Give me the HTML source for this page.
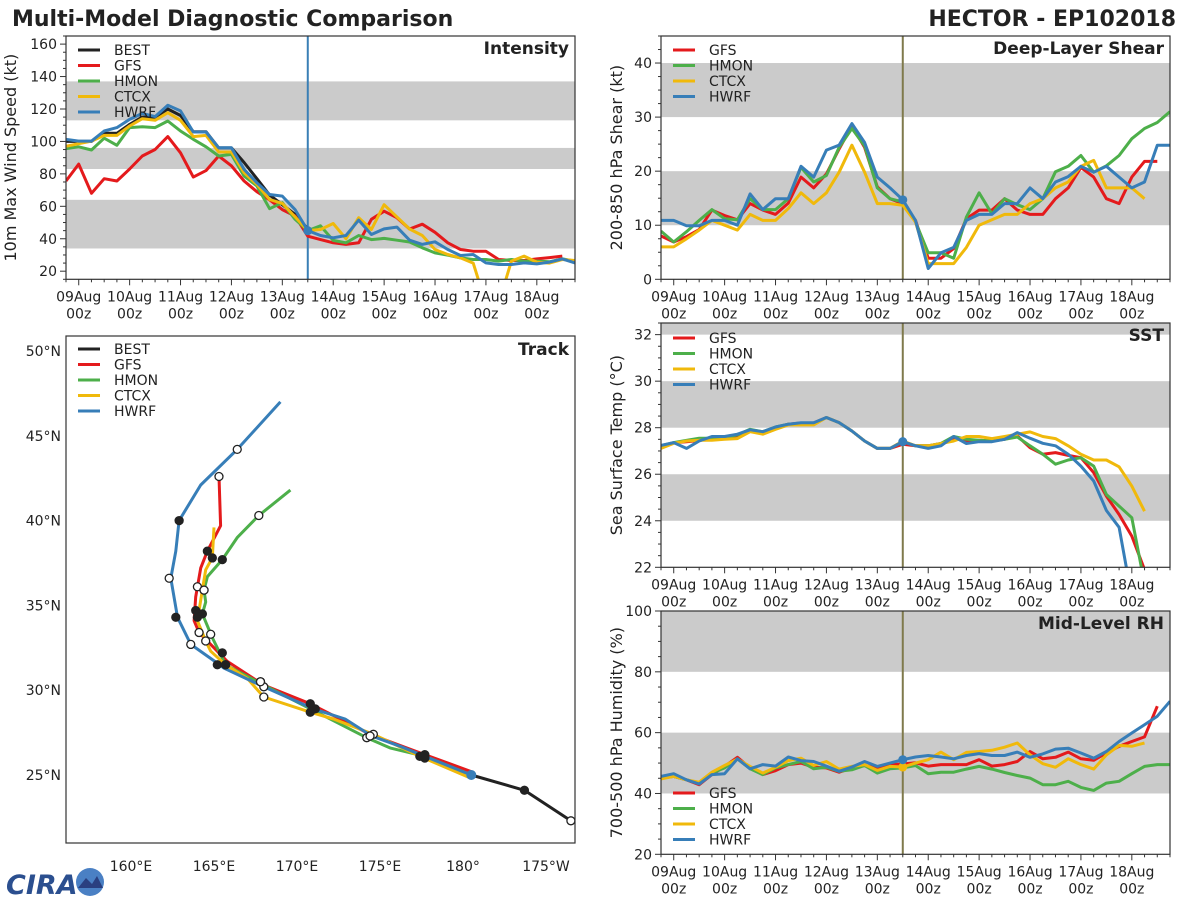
<!DOCTYPE html>
<html><head><meta charset="utf-8">
<style>
html,body{margin:0;padding:0;background:#fff;}
svg{display:block;font-family:"DejaVu Sans","Liberation Sans",sans-serif;}
</style></head>
<body>
<svg id="fig" width="1200" height="900" viewBox="0 0 1200 900" xmlns="http://www.w3.org/2000/svg">
<rect width="1200" height="900" fill="#fff"/>
<text x="12" y="26" font-size="22" font-weight="bold" fill="#222">Multi-Model Diagnostic Comparison</text>
<text x="1176" y="26" font-size="22" font-weight="bold" fill="#222" text-anchor="end">HECTOR - EP102018</text>
<g>
<text x="6" y="894" font-size="27" font-weight="bold" fill="#2b4f8f" font-style="italic">CIRA</text>
<circle cx="90" cy="882" r="14" fill="#4a80c4"/>
<path d="M78 888 L86 878 L92 884 L97 876 L103 888 Z" fill="#2a3f80"/>
</g>
</svg>
<script>
// ---------- data ----------
const startHour = -6, stepHour = 6, analysisHour = 108;
const dateLabels = ['09Aug','10Aug','11Aug','12Aug','13Aug','14Aug','15Aug','16Aug','17Aug','18Aug'];
const models = ['GFS','HMON','CTCX','HWRF'];
const colors = {BEST:'#222222',GFS:'#e41a1c',HMON:'#4daf4a',CTCX:'#f0b90b',HWRF:'#377eb8'};

const intBEST = [100,100,100,105,105,110.5,115,115,120,116,106,106,96,96,87,77,67,61,55,46];
const intGFS = [75.6,86,68,77,75.6,83,91,95,103,93,78,82,91,85,75.6,69,64,58,54,41.6,39.5,37.5,36.5,37.5,52,57,53,46,49,44,37.5,33.4,32.3,32.3,27.2,26.6,26.6,27.6,28.4,29.3];
const intHMON = [95.5,96.7,94.7,102,97.6,108.5,109,108.5,112.6,106.4,101.3,96.7,91,92,78.6,72.5,58.5,62.2,52,45,48,39,37.5,42,39.5,40.2,39.1,38,34.4,31.3,29.9,28.2,27.2,27.2,26.2,27.2,26.2,26.2,25.8,27.6,26.2];
const intCTCX = [97,98.6,100.2,103.7,103.7,109.5,114,113,117.7,113,103,103.7,93.5,93.5,80.7,73.5,64.2,61.8,53.5,45,45.7,49.4,40,53,45.7,61,53.5,46,42,33.4,30.3,28.2,25,0,0,26.2,29.3,25.6,25,27.2,26.6];
const intHWRF = [101.3,100.2,100.2,106.4,108.5,113.6,117.3,115.3,122.3,118.8,105.8,105.8,96.1,96.1,82.8,74.5,67.3,66.3,58,45,42,40.6,42,51.5,42.6,46.1,47.2,39.1,36.5,38.1,33.4,29.7,30.3,25.1,24.1,24.1,25.1,24.5,25.6,27.6,25.1];

const shrGFS = [8.0,6.9,7.9,9.2,12.8,11.8,11.0,14.0,12.8,12.0,14.1,18.9,16.9,19.5,24.1,28.4,24.4,17.1,14.9,14.0,10.9,3.9,3.9,5.7,11.2,12.8,12.8,14.9,12.8,12.0,12.0,14.9,16.9,20.7,18.9,14.9,14.0,18.9,21.8,21.8];
const shrHMON = [8.9,6.9,8.8,10.9,12.9,11.2,11.0,14.9,12.9,12.9,14.9,20.7,18.0,19.2,24.4,27.9,24.7,16.9,14.9,14.3,10.6,4.9,4.9,3.9,11.5,16.0,12.1,14.9,13.8,12.9,14.9,19.9,20.9,22.9,19.8,21.0,22.9,26.0,27.9,29.0,31.0];
const shrCTCX = [6.0,6.0,7.5,9.1,10.9,10.0,9.1,12.0,10.9,10.9,13.1,16.0,14.0,16.0,19.8,24.8,19.8,14.0,14.0,13.7,10.6,2.9,2.9,2.9,5.9,10.0,11.0,12.0,12.0,14.0,14.9,16.9,18.0,20.9,22.0,16.9,16.9,16.9,14.9];
const shrHWRF = [10.9,10.9,9.9,9.9,10.9,10.9,10.0,15.8,12.9,14.9,14.9,20.9,18.9,23.9,24.8,28.8,25.3,18.9,16.9,14.7,10.9,2.0,4.9,5.9,10.9,12.0,12.0,14.0,14.0,16.9,14.9,18.0,19.0,20.9,19.8,20.9,18.9,16.9,18.0,24.8,24.8];

const sstGFS = [27.2,27.35,27.4,27.45,27.55,27.6,27.65,27.88,27.8,28.0,28.15,28.2,28.2,28.44,28.22,27.86,27.43,27.11,27.11,27.29,27.22,27.22,27.32,27.57,27.43,27.46,27.43,27.5,27.65,27.14,26.86,26.93,26.81,26.71,26.07,25.06,24.27,23.34,21.9];
const sstHMON = [27.22,27.36,27.46,27.55,27.55,27.58,27.69,27.93,27.83,28.03,28.15,28.18,28.18,28.44,28.22,27.86,27.43,27.11,27.11,27.4,27.22,27.22,27.32,27.62,27.5,27.46,27.43,27.5,27.6,27.22,26.86,26.43,26.61,26.71,26.35,25.13,24.63,24.13,21.3];
const sstCTCX = [27.11,27.33,27.43,27.46,27.46,27.5,27.53,27.83,27.72,27.93,28.12,28.12,28.12,28.44,28.22,27.86,27.43,27.11,27.11,27.43,27.22,27.22,27.32,27.43,27.62,27.62,27.53,27.62,27.72,27.82,27.62,27.53,27.22,26.86,26.61,26.61,26.32,25.49,24.41];
const sstHWRF = [27.24,27.36,27.11,27.43,27.62,27.62,27.72,27.91,27.83,28.03,28.15,28.21,28.21,28.44,28.22,27.86,27.43,27.11,27.11,27.4,27.22,27.11,27.22,27.62,27.32,27.4,27.4,27.5,27.79,27.55,27.33,27.22,26.86,26.35,25.71,24.44,23.72,20.7];

const rhGFS = [45.05,45.6,44.5,42.9,46.2,48.9,51.9,48.4,46.2,47.5,49.5,50.0,48.6,48.4,47.0,48.4,49.2,48.4,49.5,49.7,50.1,49.0,49.5,49.5,49.5,51.1,49.0,49.5,50.5,53.8,51.4,51.9,53.6,51.4,50.9,53.3,55.5,57.1,58.6,68.7];
const rhHMON = [45.3,45.6,44.5,43.4,46.7,48.4,51.4,48.1,46.2,48.4,49.5,50.5,48.1,48.6,47.3,47.8,49.2,46.7,48.1,48.4,49.2,46.5,47.0,47.0,48.0,48.9,48.0,46.9,45.9,45.05,42.9,42.9,44.0,42.0,41.0,43.4,44.0,46.5,48.9,49.5,49.5];
const rhCTCX = [44.8,45.6,44.5,43.7,47.0,49.2,51.3,48.9,46.7,48.6,50.8,51.6,49.2,50.5,48.0,48.9,49.5,47.6,48.9,48.7,50.0,51.1,53.6,51.1,53.5,53.8,54.2,55.2,56.6,52.7,49.8,48.6,51.4,49.5,48.0,52.7,55.8,55.5,56.6];
const rhHWRF = [45.6,46.5,44.5,43.1,46.2,46.5,51.4,48.1,49.5,49.0,52.0,50.8,50.5,49.0,47.3,48.7,50.5,48.9,50.0,51.1,52.0,52.5,52.0,51.4,52.5,53.1,52.5,52.5,53.6,51.9,53.0,54.6,54.9,53.3,51.6,53.8,57.1,59.9,62.6,65.4,70.3];

// track (lon east-positive, >180 = west of dateline)
const trkBESTlon = [180.5,183.7,186.5], trkBESTlat = [25.0,24.1,22.3];
const trkGFSlon = [180.5,177.7,174.4,172.8,170.8,168.0,165.8,164.8,164.1,163.8,163.9,164.2,164.6,165.4,165.3];
const trkGFSlat = [25.2,26.2,27.4,28.2,29.2,30.3,31.7,32.7,33.4,34.1,35.5,37.2,38.2,39.7,42.6];
const trkHMONlon = [180.5,177.7,175.6,174.2,171.8,168.0,165.7,164.9,164.3,164.5,164.4,164.6,165.5,166.4,167.7,169.6];
const trkHMONlat = [25.0,26.1,26.6,27.2,28.4,30.3,31.5,33.1,34.5,35.2,35.9,36.7,37.7,39.0,40.3,41.8];
const trkCTCXlon = [180.5,177.4,174.6,172.2,170.8,168.0,167.0,165.7,164.8,164.5,164.0,164.2,164.5,164.9,165.0];
const trkCTCXlat = [24.8,26.1,27.4,28.3,28.7,29.6,30.7,31.5,32.3,32.9,34.1,35.3,37.1,37.8,39.6];
const trkHWRFlon = [180.5,177.7,176.2,174.5,172.9,171.0,168.0,165.6,165.2,163.6,162.8,162.4,162.7,162.9,164.2,166.4,169.0];
const trkHWRFlat = [25.0,26.1,26.7,27.3,28.3,28.9,30.2,31.3,31.6,32.7,34.3,36.6,38.2,40.0,42.1,44.2,47.0];
const dayGFSlon = [177.7,174.4,170.8,167.8,165.5,164.1,163.9,164.0,164.6,165.3], dayGFSlat = [26.2,27.3,29.2,30.5,32.2,33.4,34.7,36.1,38.2,42.6];
const dayHMONlon = [177.7,174.2,171.1,168.0,165.7,164.8,164.3,164.4,165.5,167.7], dayHMONlat = [26.0,27.2,28.9,30.2,31.5,33.3,34.5,35.9,37.7,40.3];
const dayCTCXlon = [177.4,174.6,170.8,168.0,165.7,164.5,164.0,164.4,164.9], dayCTCXlat = [26.1,27.4,28.7,29.6,31.5,32.9,34.3,35.9,37.8];
const dayHWRFlon = [177.7,174.4,171.0,167.8,165.2,163.6,162.7,162.3,162.9,166.4], dayHWRFlat = [26.1,27.3,28.9,30.5,31.5,32.7,34.3,36.6,40.0,44.2];
const dayBESTlon = [183.7,186.5], dayBESTlat = [24.1,22.3];
const latTicks = [50,45,40,35,30,25];
const lonTicks = [160,165,170,175,180,185];
const lonTickLabels = ['160°E','165°E','170°E','175°E','180°','175°W'];

// ---------- drawing ----------
const NS = 'http://www.w3.org/2000/svg';
const svg = document.getElementById('fig');
function mk(tag, attrs, parent){
  const e = document.createElementNS(NS, tag);
  for (const k in attrs) e.setAttribute(k, attrs[k]);
  (parent||svg).appendChild(e);
  return e;
}
let clipId = 0;
function timePanel(cfg){
  const g = mk('g', {});
  
  
  const {x0,x1,yt,yb,vmin,vmax} = cfg;
  const X = t => x0 + (t - (-6)) / 240 * (x1 - x0);
  const Y = v => yb - (v - vmin) / (vmax - vmin) * (yb - yt);
  mk('rect', {x:x0,y:yt,width:x1-x0,height:yb-yt,fill:'#fff'}, g);
  cfg.bands.forEach(b => {
    const r = mk('rect', {x:x0, y:Y(Math.min(b[1],vmax)), width:x1-x0, height:Y(b[0])-Y(Math.min(b[1],vmax)), fill:'#cbcbcb'}, g);
    
    
  });
  for (let v = vmin; v <= vmax + 1e-6; v += cfg.minor){
    const isMajor = Math.abs(((v - cfg.majorBase) / cfg.major) - Math.round((v - cfg.majorBase) / cfg.major)) < 1e-6;
    mk('line', {x1:x0, x2:x0-(isMajor?6:3), y1:Y(v), y2:Y(v), stroke:'#333', 'stroke-width':1}, g);
    if (isMajor){
      const t = mk('text', {x:x0-9, y:Y(v)+5, 'font-size':14, fill:'#222', 'text-anchor':'end'}, g);
      t.textContent = String(Math.round(v));
      
      
    }
  }
  for (let h = -6; h <= 234; h += 6){
    const maj = h % 24 === 0 && h >= 0 && h <= 216;
    mk('line', {x1:X(h), x2:X(h), y1:yb, y2:yb+(maj?6:3), stroke:'#333', 'stroke-width':1}, g);
  }
  dateLabels.forEach((d, i) => {
    const t1 = mk('text', {x:X(i*24), y:yb+22, 'font-size':14, fill:'#222', 'text-anchor':'middle'}, g);
    t1.textContent = d;
    
    
    const t2 = mk('text', {x:X(i*24), y:yb+39, 'font-size':14, fill:'#222', 'text-anchor':'middle'}, g);
    t2.textContent = '00z';
    
    
  });
  const cid = 'clip' + (clipId++);
  const cp = mk('clipPath', {id:cid}, g);
  mk('rect', {x:x0, y:yt, width:x1-x0, height:yb-yt}, cp);
  const sg = mk('g', {'clip-path':'url(#'+cid+')'}, g);
  const vl = mk('line', {x1:X(analysisHour), x2:X(analysisHour), y1:yt, y2:yb, stroke:cfg.vlineColor, 'stroke-width':2}, sg);
  
  
  cfg.series.forEach(s => {
    const pts = s.values.map((v, i) => X(startHour + i*stepHour).toFixed(1) + ',' + Y(v).toFixed(1)).join(' ');
    const pl = mk('polyline', {points:pts, fill:'none', stroke:colors[s.key], 'stroke-width':3, 'stroke-linejoin':'round'}, sg);
    
    
  });
  cfg.dots.forEach(d => {
    const c = mk('circle', {cx:X(analysisHour), cy:Y(d[1]), r:4.5, fill:colors[d[0]]}, sg);
    
    
  });
  mk('rect', {x:x0, y:yt, width:x1-x0, height:yb-yt, fill:'none', stroke:'#333', 'stroke-width':1.2}, g);
  const pt = mk('text', {x:x1-6, y:yt+18, 'font-size':17, 'font-weight':'bold', fill:'#222', 'text-anchor':'end'}, g);
  pt.textContent = cfg.title;
  
  
  const yl = mk('text', {x:0, y:0, 'font-size':16, fill:'#222', 'text-anchor':'middle', transform:'translate('+cfg.ylabX+','+((yt+yb)/2)+') rotate(-90)'}, g);
  yl.textContent = cfg.ylabel;
  
  
  legend(g, x0, cfg.legendY, cfg.legendKeys);
}
function legend(g, x0, y0, keys){
  const lg = mk('g', {}, g);
  
  
  keys.forEach((k, i) => {
    const y = y0 + i*15.5;
    mk('line', {x1:x0+12, x2:x0+34, y1:y, y2:y, stroke:colors[k], 'stroke-width':3}, lg);
    const t = mk('text', {x:x0+48, y:y+5, 'font-size':14, fill:'#222'}, lg);
    t.textContent = k;
    
    
  });
}

timePanel({name:'intensity-panel', title:'Intensity', ylabel:'10m Max Wind Speed (kt)', ylabX:16,
  x0:66, x1:575, yt:36, yb:279.3, vmin:15, vmax:165, major:20, majorBase:20, minor:5,
  bands:[[34,64],[83,96],[113,137]], vlineColor:'#3a7fb5',
  series:[{key:'BEST',values:intBEST},{key:'GFS',values:intGFS},{key:'HMON',values:intHMON},{key:'CTCX',values:intCTCX},{key:'HWRF',values:intHWRF}],
  dots:[['HWRF',45]], legendY:50, legendKeys:['BEST','GFS','HMON','CTCX','HWRF']});
timePanel({name:'shear-panel', title:'Deep-Layer Shear', ylabel:'200-850 hPa Shear (kt)', ylabX:622,
  x0:661, x1:1170, yt:36, yb:279.3, vmin:0, vmax:45, major:10, majorBase:0, minor:2.5,
  bands:[[10,20],[30,40]], vlineColor:'#7f7a4c',
  series:[{key:'GFS',values:shrGFS},{key:'HMON',values:shrHMON},{key:'CTCX',values:shrCTCX},{key:'HWRF',values:shrHWRF}],
  dots:[['HWRF',14.7]], legendY:50, legendKeys:models});
timePanel({name:'sst-panel', title:'SST', ylabel:'Sea Surface Temp (°C)', ylabX:622,
  x0:661, x1:1170, yt:323, yb:567.3, vmin:22, vmax:32.5, major:2, majorBase:22, minor:0.5,
  bands:[[24,26],[28,30],[32,33]], vlineColor:'#7f7a4c',
  series:[{key:'GFS',values:sstGFS},{key:'HMON',values:sstHMON},{key:'CTCX',values:sstCTCX},{key:'HWRF',values:sstHWRF}],
  dots:[['HWRF',27.4]], legendY:338, legendKeys:models});
timePanel({name:'rh-panel', title:'Mid-Level RH', ylabel:'700-500 hPa Humidity (%)', ylabX:622,
  x0:661, x1:1170, yt:611, yb:854.3, vmin:20, vmax:100, major:20, majorBase:20, minor:5,
  bands:[[40,60],[80,100]], vlineColor:'#7f7a4c',
  series:[{key:'GFS',values:rhGFS},{key:'HMON',values:rhHMON},{key:'CTCX',values:rhCTCX},{key:'HWRF',values:rhHWRF}],
  dots:[['CTCX',48.7],['HWRF',51.1]], legendY:793, legendKeys:models});

(function(){
  const g = mk('g', {});
  
  
  const x0=66, x1=575, yt=336, yb=843;
  const LX = lon => 463 + (lon - 180) * 16.6;
  const LY = lat => 351 + (50 - lat) * 16.96;
  mk('rect', {x:x0,y:yt,width:x1-x0,height:yb-yt,fill:'#fff'}, g);
  latTicks.forEach(l => {
    const t = mk('text', {x:61, y:LY(l)+5, 'font-size':14, fill:'#222', 'text-anchor':'end'}, g);
    t.textContent = l + '°N';
    
    
  });
  lonTicks.forEach((l, i) => {
    const t = mk('text', {x:LX(l), y:871, 'font-size':14, fill:'#222', 'text-anchor':'middle'}, g);
    t.textContent = lonTickLabels[i];
    
    
  });
  const cp = mk('clipPath', {id:'trackclip'}, g);
  mk('rect', {x:x0, y:yt, width:x1-x0, height:yb-yt}, cp);
  const sg = mk('g', {'clip-path':'url(#trackclip)'}, g);
  const tracks = [['BEST',trkBESTlon,trkBESTlat],['GFS',trkGFSlon,trkGFSlat],['HMON',trkHMONlon,trkHMONlat],['CTCX',trkCTCXlon,trkCTCXlat],['HWRF',trkHWRFlon,trkHWRFlat]];
  tracks.forEach(tr => {
    const pts = tr[1].map((lo, i) => LX(lo).toFixed(1) + ',' + LY(tr[2][i]).toFixed(1)).join(' ');
    const pl = mk('polyline', {points:pts, fill:'none', stroke:colors[tr[0]], 'stroke-width':3, 'stroke-linejoin':'round'}, sg);
    
    
  });
  const days = [[dayGFSlon,dayGFSlat],[dayHMONlon,dayHMONlat],[dayCTCXlon,dayCTCXlat],[dayHWRFlon,dayHWRFlat],[dayBESTlon,dayBESTlat]];
  days.forEach(d => {
    d[0].forEach((lo, i) => {
      const c = mk('circle', {cx:LX(lo), cy:LY(d[1][i]), r:4, fill:(i%2===0)?'#222':'#fff', stroke:'#222', 'stroke-width':1.3}, sg);
      
      
    });
  });
  const sc = mk('circle', {cx:LX(trkHWRFlon[0]), cy:LY(trkHWRFlat[0]), r:5, fill:colors.HWRF}, sg);
  
  
  mk('rect', {x:x0, y:yt, width:x1-x0, height:yb-yt, fill:'none', stroke:'#333', 'stroke-width':1.2}, g);
  const pt = mk('text', {x:x1-6, y:yt+19, 'font-size':17, 'font-weight':'bold', fill:'#222', 'text-anchor':'end'}, g);
  pt.textContent = 'Track';
  
  
  legend(g, x0, 349, ['BEST','GFS','HMON','CTCX','HWRF']);
})();
</script>
</body></html>
